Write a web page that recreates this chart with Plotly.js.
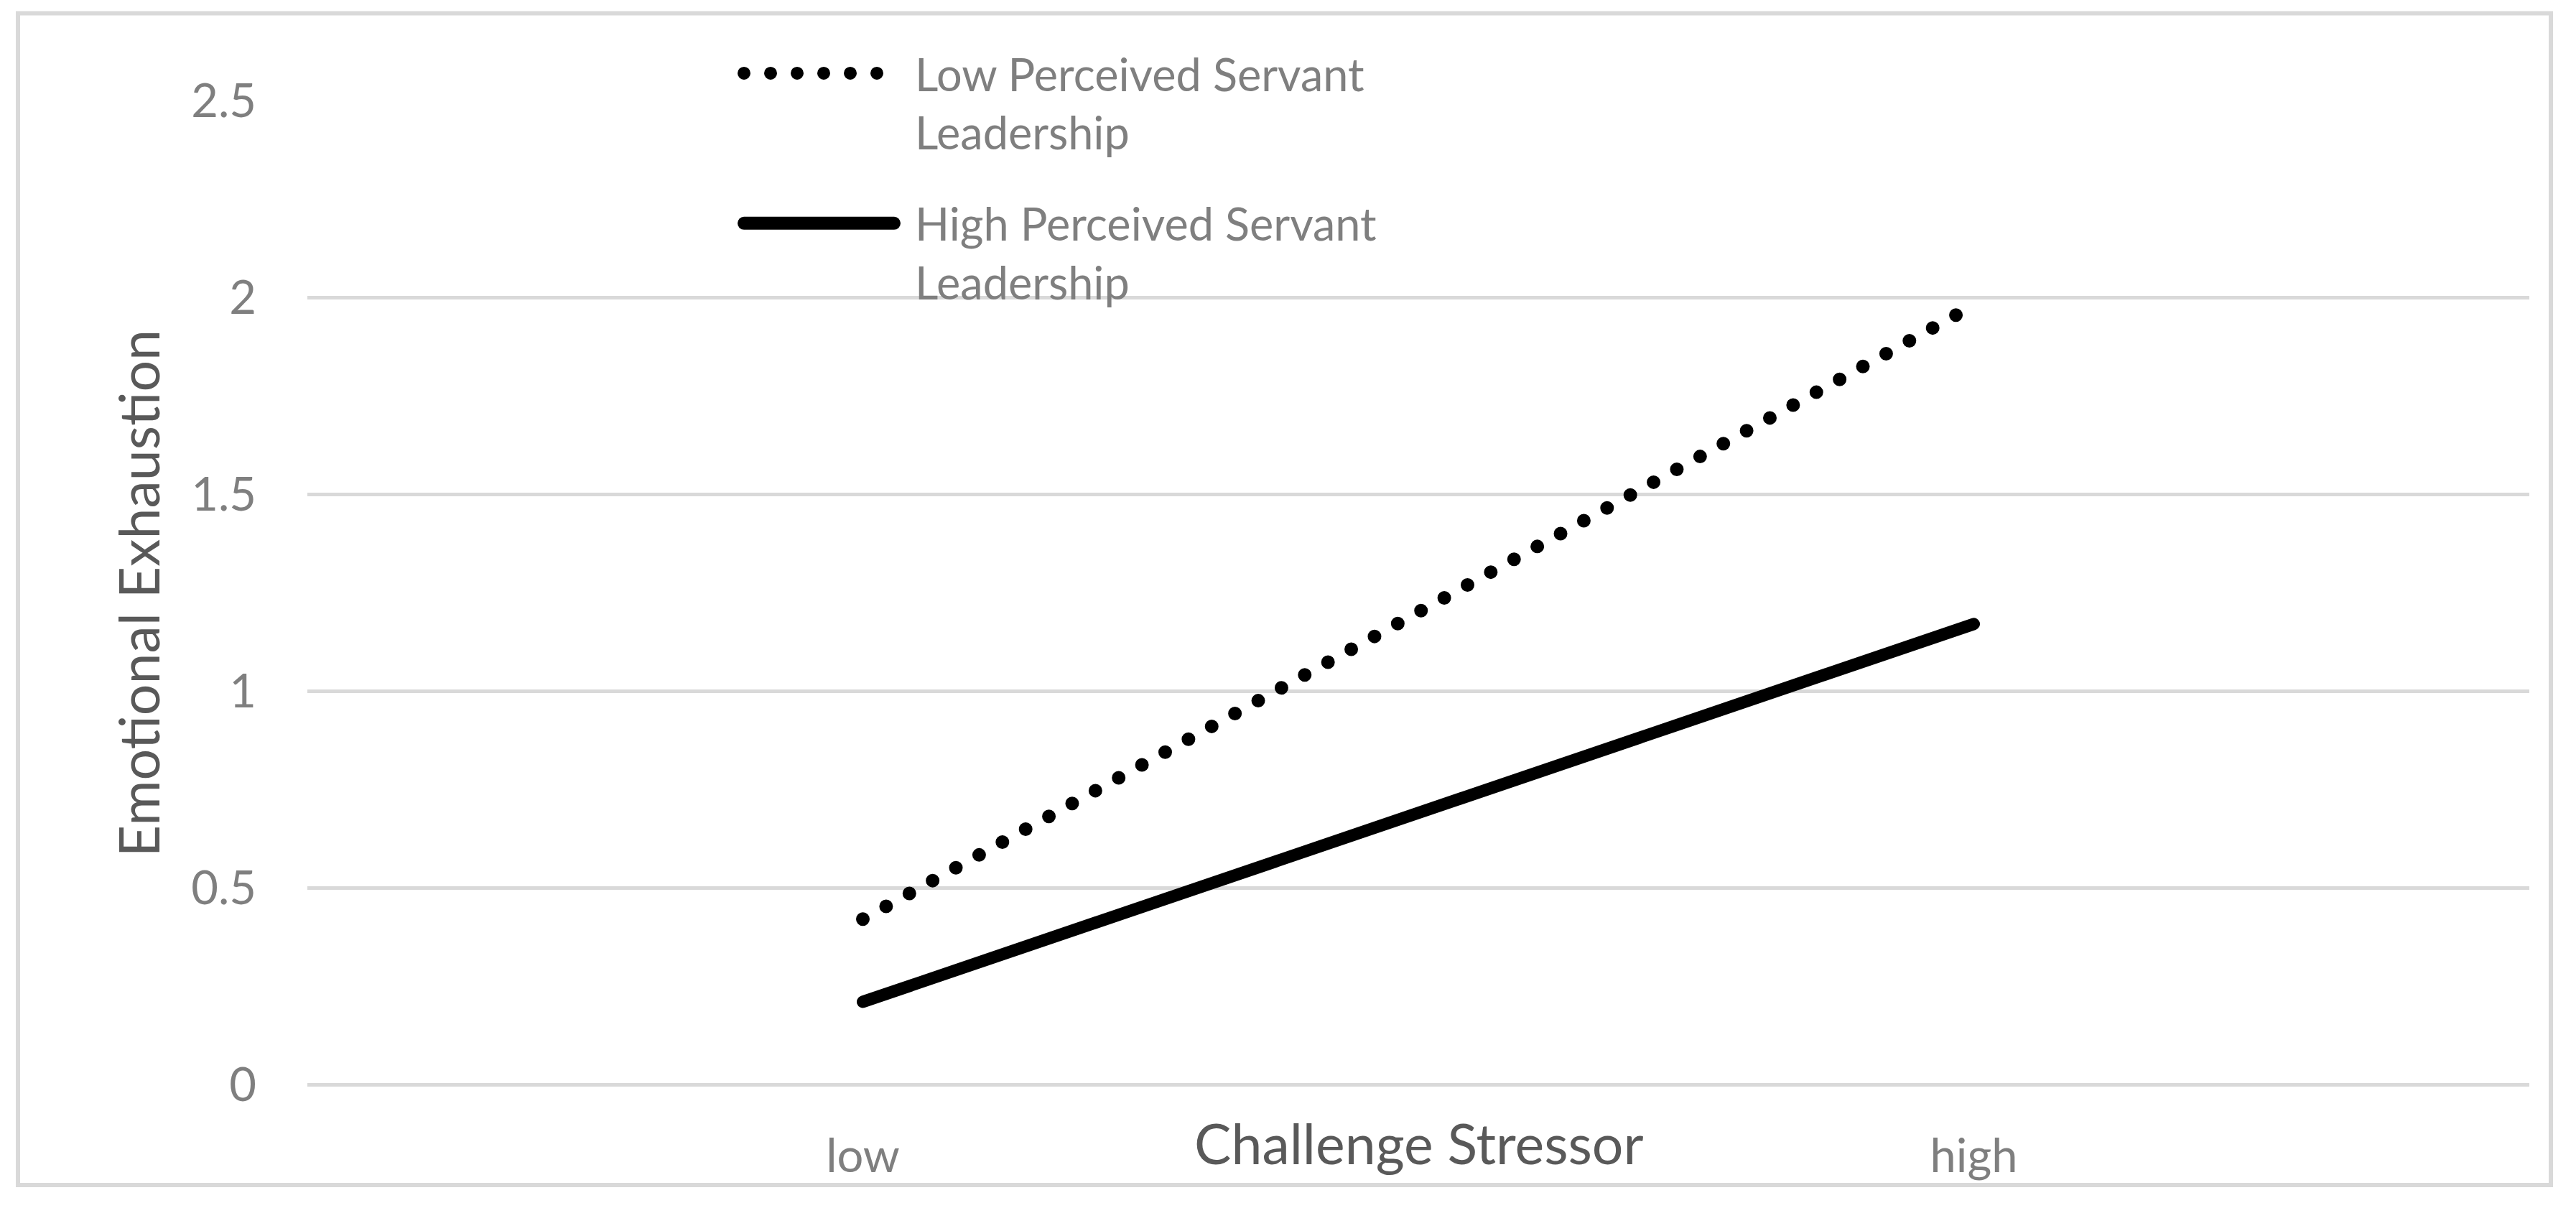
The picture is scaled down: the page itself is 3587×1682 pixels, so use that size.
<!DOCTYPE html>
<html><head><meta charset="utf-8">
<script src="https://cdn.plot.ly/plotly-3.0.1.min.js"></script>
<style>
html,body{margin:0;padding:0;background:#fff}
#chart{width:3587px;height:1682px}
.scatterlayer .js-line, .legend .js-line { stroke-linecap: round !important; }
.legend .js-line { stroke-width: 18px !important; }
.legend .legendtext { transform: translate(24px, 0px); }
.legend .scrollbox, .legend [clip-path] { clip-path: none !important; }
</style></head><body><div id="chart"></div>
<script>
const categories = ["low", "high"];
const lowServantLeadership = [0.42, 1.98];
const highServantLeadership = [0.21, 1.17];
const seriesNames = ["Low Perceived Servant<br>Leadership", "High Perceived Servant<br>Leadership"];
const yTickVals = [0, 0.5, 1, 1.5, 2, 2.5];
const yTickText = ["0", "0.5", "1", "1.5", "2", "2.5"];
const xTitle = "Challenge Stressor";
const yTitle = "Emotional Exhaustion";

const W = 3587, H = 1682;
const L = 428, R = 3522, T = 139.5, B = 1510;
const pw = R - L, ph = B - T;
const px = v => (v - L) / pw;
const py = v => (B - v) / ph;

const traces = [
  {x: categories, y: lowServantLeadership, name: seriesNames[0], legendgroup: 'a', type: 'scatter', mode: 'lines',
   line: {color: '#000000', width: 19, dash: '0px,37px'}},
  {x: categories, y: highServantLeadership, name: seriesNames[1], legendgroup: 'b', type: 'scatter', mode: 'lines',
   line: {color: '#000000', width: 17}}
];

const layout = {
  width: W, height: H,
  margin: {l: L, r: W - R, t: T, b: H - B, pad: 0},
  paper_bgcolor: '#ffffff', plot_bgcolor: '#ffffff',
  font: {family: 'Lato, "Open Sans", sans-serif', color: '#7f7f7f', size: 63},
  showlegend: true,
  legend: {x: px(1031), y: py(54), xanchor: 'left', yanchor: 'top', valign: 'top',
           bgcolor: 'rgba(0,0,0,0)', borderwidth: 0, itemwidth: 209, tracegroupgap: 42,
           font: {size: 63, color: '#7f7f7f'}},
  xaxis: {type: 'category', range: [-0.5, 1.5], showgrid: false, zeroline: false, showline: false,
          ticks: '', ticklabelstandoff: 56, tickfont: {size: 65, color: '#7f7f7f'}, fixedrange: true},
  yaxis: {range: [0, 2.5], tickvals: yTickVals, ticktext: yTickText, showgrid: true,
          gridcolor: '#d9d9d9', gridwidth: 5, zeroline: true, zerolinecolor: '#d9d9d9', zerolinewidth: 5,
          showline: false, ticks: '', ticklabelstandoff: 70, tickfont: {size: 65, color: '#7f7f7f'}, fixedrange: true},
  annotations: [
    {text: xTitle, xref: 'paper', yref: 'paper', x: px(1976), y: py(1591), xanchor: 'center', yanchor: 'middle',
     showarrow: false, font: {size: 77, color: '#595959'}},
    {text: yTitle, xref: 'paper', yref: 'paper', x: px(192), y: py(826), xanchor: 'center', yanchor: 'middle',
     textangle: -90, showarrow: false, font: {size: 77, color: '#595959'}}
  ],
  shapes: [
    {type: 'rect', xref: 'paper', yref: 'paper', x0: px(25), x1: px(3552), y0: py(1650), y1: py(18),
     line: {color: '#d9d9d9', width: 6}, fillcolor: 'rgba(0,0,0,0)', layer: 'below'}
  ]
};

Plotly.newPlot('chart', traces, layout, {displayModeBar: false, staticPlot: true});
</script></body></html>
